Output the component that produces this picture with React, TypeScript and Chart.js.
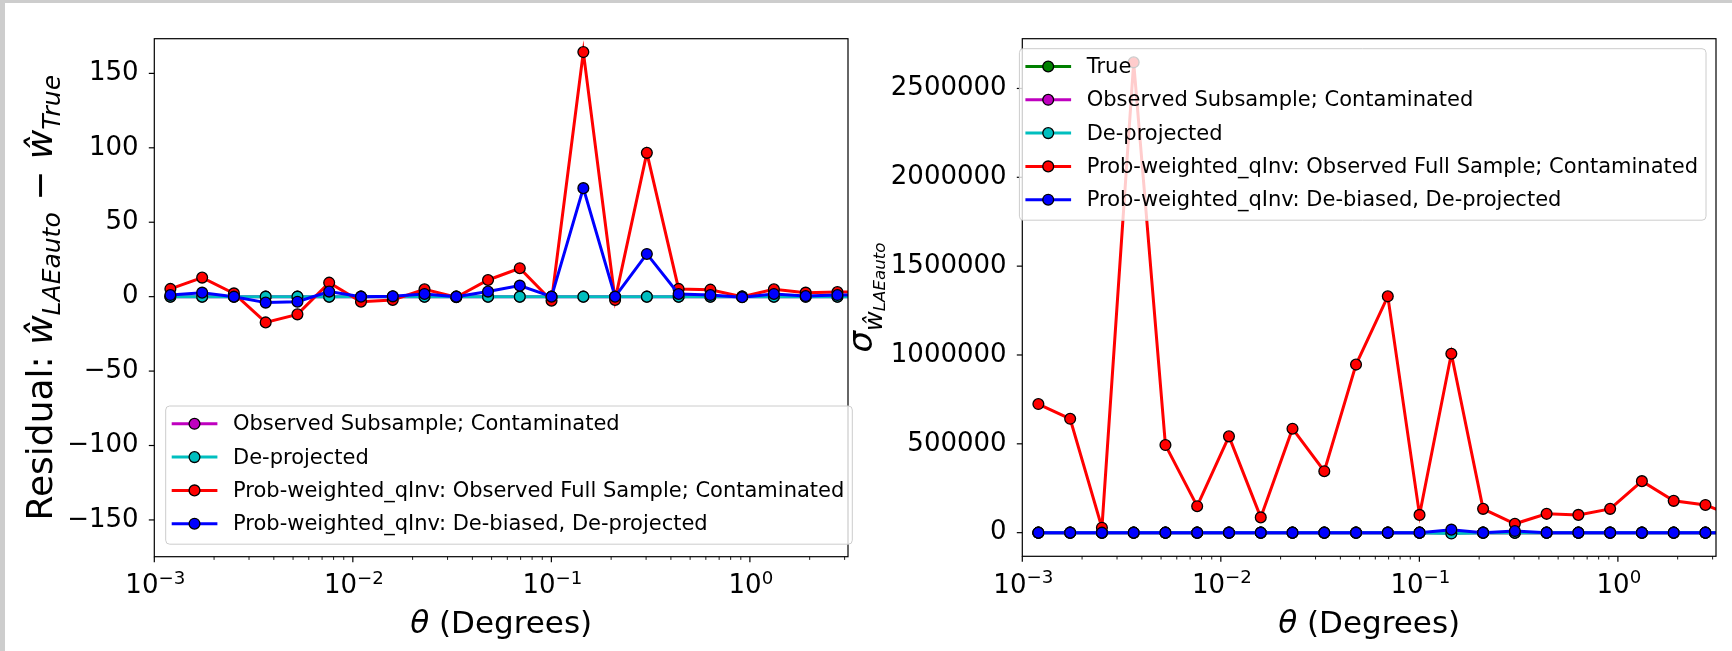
import React, { useEffect, useRef } from 'react';
import { Chart, registerables } from 'chart.js';

Chart.register(...registerables);

// ---------- data ----------
const THETA_DEG = [
  0.001205, 0.001742, 0.002518, 0.003639, 0.00526, 0.0076, 0.01099, 0.01589,
  0.02296, 0.0332, 0.04797, 0.06934, 0.1002, 0.1449, 0.2094, 0.3027, 0.4375,
  0.6324, 0.914, 1.321, 1.91, 2.76, 3.99,
];

// Left panel: residuals
const RES_OBS_SUB = [0, 0, 0, 0, 0, 0, 0, 0, 0, 0, 0, 0, 0, 0, 0, 0, 0, 0, 0, 0, 0, 0, 0];
const RES_DEPROJ = [0, 0, 0, 0, 0, 0, 0, 0, 0, 0, 0, 0, 0, 0, 0, 0, 0, 0, 0, 0, 0, 0, 0];
const RES_PW_FULL = [5.2, 12.8, 2.2, -17.3, -11.9, 9.4, -3.4, -2.2, 4.9, -0.4, 11.2, 19.1, -2.7, 164.3, -2.2, 96.6, 5.2, 4.7, 0, 4.9, 2.7, 3.1, 3.0];
const RES_PW_DEBIAS = [1.1, 2.7, 0, -4.0, -3.4, 3.4, 0, 0.2, 1.8, 0, 3.4, 7.4, 0, 72.9, 0, 28.7, 1.8, 1.1, -0.4, 1.8, 0.4, 1.1, 1.0];

// Right panel: sigma
const SIG_TRUE = [0, 0, 0, 0, 0, 0, 0, 0, 0, 0, 0, 0, 0, 0, 0, 0, 0, 0, 0, 0, 0, 0, 0];
const SIG_OBS_SUB = [0, 0, 0, 0, 0, 0, 0, 0, 0, 0, 0, 0, 0, 0, 0, 0, 0, 0, 0, 0, 0, 0, 0];
const SIG_DEPROJ = [0, 0, 0, 0, 0, 0, 0, 0, 0, 0, 0, 0, 0, -5000, 0, 0, 0, 0, 0, 0, 0, 0, 0];
const SIG_PW_FULL = [724000, 641000, 28000, 2647000, 493000, 149000, 542000, 86000, 585000, 346000, 946000, 1330000, 100000, 1007000, 134000, 50000, 106000, 100000, 134000, 290000, 179000, 156000, 84000];
const SIG_PW_DEBIAS = [0, 0, 0, 0, 0, 0, 0, 0, 0, 0, 0, 0, 0, 17000, 0, 9000, 0, 0, 0, 0, 0, 0, 0];

const LABEL_TRUE = 'True';
const LABEL_OBS_SUB = 'Observed Subsample; Contaminated';
const LABEL_DEPROJ = 'De-projected';
const LABEL_PW_FULL = 'Prob-weighted_qInv: Observed Full Sample; Contaminated';
const LABEL_PW_DEBIAS = 'Prob-weighted_qInv: De-biased, De-projected';

// axis settings
const X_MIN = 0.001;
const X_MAX = 3.12;
const X_MAJOR_EXPONENTS = [-3, -2, -1, 0];
const X_MINOR_MULTIPLIERS = [2, 3, 4, 5, 6, 7, 8, 9];
const LEFT_Y_MIN = -174.7;
const LEFT_Y_MAX = 173.3;
const LEFT_Y_TICKS = [-150, -100, -50, 0, 50, 100, 150];
const RIGHT_Y_MIN = -133000;
const RIGHT_Y_MAX = 2780000;
const RIGHT_Y_TICKS = [0, 500000, 1000000, 1500000, 2000000, 2500000];

// ---------- style ----------
const FONT = '"DejaVu Sans", sans-serif';
const COL = {
  green: '#008000',
  magenta: '#bf00bf',
  cyan: '#00bfbf',
  red: '#ff0000',
  blue: '#0000ff',
};
const TICK_FONT = 26;
const LEG_FONT = 21;
const LINE_W = 3;
const PT_R = 5.4;
const PT_BW = 1.3;

type Run = { text: string; size: number; italic?: boolean; dy?: number };

function fontStr(size: number, italic?: boolean) {
  return `${italic ? 'italic ' : ''}${size}px ${FONT}`;
}

function drawRuns(ctx: CanvasRenderingContext2D, runs: Run[], x: number, y: number, rotated: boolean) {
  ctx.save();
  ctx.translate(x, y);
  if (rotated) ctx.rotate(-Math.PI / 2);
  ctx.textAlign = 'left';
  ctx.textBaseline = 'alphabetic';
  ctx.fillStyle = '#000';
  let total = 0;
  const widths = runs.map((r) => {
    ctx.font = fontStr(r.size, r.italic);
    const w = ctx.measureText(r.text).width;
    total += w;
    return w;
  });
  let cx = -total / 2;
  runs.forEach((r, i) => {
    ctx.font = fontStr(r.size, r.italic);
    ctx.fillText(r.text, cx, r.dy || 0);
    cx += widths[i];
  });
  ctx.restore();
}

function roundRectPath(ctx: CanvasRenderingContext2D, x: number, y: number, w: number, h: number, r: number) {
  ctx.beginPath();
  ctx.moveTo(x + r, y);
  ctx.lineTo(x + w - r, y);
  ctx.arcTo(x + w, y, x + w, y + r, r);
  ctx.lineTo(x + w, y + h - r);
  ctx.arcTo(x + w, y + h, x + w - r, y + h, r);
  ctx.lineTo(x + r, y + h);
  ctx.arcTo(x, y + h, x, y + h - r, r);
  ctx.lineTo(x, y + r);
  ctx.arcTo(x, y, x + r, y, r);
  ctx.closePath();
}

const decorPlugin = {
  id: 'mplDecor',
  afterDraw(chart: any, _args: any, opts: any) {
    const ctx: CanvasRenderingContext2D = chart.ctx;
    const { left, right, top, bottom } = chart.chartArea;
    const xs = chart.scales.x;
    const ys = chart.scales.y;
    ctx.save();
    ctx.strokeStyle = '#000';

    // y major ticks
    ctx.lineWidth = 1.2;
    for (const t of ys.ticks) {
      const py = ys.getPixelForValue(t.value);
      ctx.beginPath();
      ctx.moveTo(left - 5.5, py);
      ctx.lineTo(left, py);
      ctx.stroke();
    }
    // x ticks (log)
    for (const e of X_MAJOR_EXPONENTS) {
      const base = Math.pow(10, e);
      if (base >= X_MIN && base <= X_MAX) {
        const px = xs.getPixelForValue(base);
        ctx.lineWidth = 1.2;
        ctx.beginPath();
        ctx.moveTo(px, bottom);
        ctx.lineTo(px, bottom + 5.5);
        ctx.stroke();
      }
      for (const m of X_MINOR_MULTIPLIERS) {
        const v = m * base;
        if (v < X_MIN || v > X_MAX) continue;
        const px = xs.getPixelForValue(v);
        ctx.lineWidth = 0.9;
        ctx.beginPath();
        ctx.moveTo(px, bottom);
        ctx.lineTo(px, bottom + 3.2);
        ctx.stroke();
      }
    }
    // frame
    ctx.lineWidth = 1.2;
    ctx.strokeRect(left, top, right - left, bottom - top);

    // x tick labels with superscripts
    for (const e of X_MAJOR_EXPONENTS) {
      const v = Math.pow(10, e);
      const px = xs.getPixelForValue(v);
      const sup = e < 0 ? '\u2212' + String(-e) : String(e);
      drawRuns(
        ctx,
        [
          { text: '10', size: TICK_FONT },
          { text: sup, size: TICK_FONT * 0.7, dy: -9.5 },
        ],
        px + 1,
        bottom + 36.6,
        false
      );
    }

    // x title
    drawRuns(
      ctx,
      [
        { text: '\u03b8', size: 31, italic: true },
        { text: ' (Degrees)', size: 31 },
      ],
      (left + right) / 2,
      bottom + 76.3,
      false
    );

    // y title
    drawRuns(ctx, opts.yTitle, left - opts.yTitleOffset, (top + bottom) / 2, true);

    // legend
    const items = chart.data.datasets.map((d: any) => ({ label: d.label, color: d.borderColor }));
    ctx.font = fontStr(LEG_FONT);
    const maxW = Math.max(...items.map((it: any) => ctx.measureText(it.label).width));
    const w = 67.3 + maxW + 8;
    const h = 17.8 + (items.length - 1) * 33.3 + 20.5;
    let x0: number;
    let y0: number;
    if (opts.legendCorner === 'lowerleft') {
      x0 = left + 11.4;
      y0 = bottom - 12.5 - h;
    } else {
      x0 = right - 10 - w;
      y0 = top + 10;
    }
    roundRectPath(ctx, x0, y0, w, h, 4);
    ctx.fillStyle = 'rgba(255,255,255,0.8)';
    ctx.fill();
    ctx.strokeStyle = '#cccccc';
    ctx.lineWidth = 1;
    ctx.stroke();
    items.forEach((it: any, i: number) => {
      const cy = y0 + 17.8 + i * 33.3;
      ctx.strokeStyle = it.color;
      ctx.lineWidth = LINE_W;
      ctx.beginPath();
      ctx.moveTo(x0 + 6, cy);
      ctx.lineTo(x0 + 51.7, cy);
      ctx.stroke();
      ctx.beginPath();
      ctx.arc(x0 + 28.8, cy, PT_R, 0, Math.PI * 2);
      ctx.fillStyle = it.color;
      ctx.fill();
      ctx.strokeStyle = '#000';
      ctx.lineWidth = PT_BW;
      ctx.stroke();
      ctx.fillStyle = '#000';
      ctx.font = fontStr(LEG_FONT);
      ctx.textAlign = 'left';
      ctx.textBaseline = 'middle';
      ctx.fillText(it.label, x0 + 67.3, cy + 1);
    });

    ctx.restore();
  },
};

function makeDataset(label: string, color: string, ys: number[], idx: number, n: number) {
  return {
    label,
    data: THETA_DEG.map((x, i) => ({ x, y: ys[i] })),
    borderColor: color,
    backgroundColor: color,
    borderWidth: LINE_W,
    pointRadius: PT_R,
    pointHoverRadius: PT_R,
    pointBorderColor: '#000',
    pointBorderWidth: PT_BW,
    pointBackgroundColor: color,
    tension: 0,
    order: n - idx,
    clip: 0,
  };
}

type PanelProps = {
  left: number;
  width: number;
  height: number;
  series: { label: string; color: string; values: number[] }[];
  yMin: number;
  yMax: number;
  yTicks: number[];
  yFmt: (v: number) => string;
  yAxisWidth: number;
  padding: { left: number; right: number; top: number; bottom: number };
  yTitle: Run[];
  yTitleOffset: number;
  legendCorner: string;
};

function Panel(p: PanelProps) {
  const ref = useRef<HTMLCanvasElement | null>(null);
  useEffect(() => {
    if (!ref.current) return;
    const n = p.series.length;
    const chart = new Chart(ref.current, {
      type: 'line',
      data: {
        datasets: p.series.map((s, i) => makeDataset(s.label, s.color, s.values, i, n)) as any,
      },
      options: {
        animation: false,
        responsive: false,
        maintainAspectRatio: false,
        devicePixelRatio: 1,
        events: [],
        layout: { padding: p.padding },
        plugins: {
          legend: { display: false },
          tooltip: { enabled: false },
          mplDecor: { yTitle: p.yTitle, yTitleOffset: p.yTitleOffset, legendCorner: p.legendCorner },
        } as any,
        scales: {
          x: {
            type: 'logarithmic',
            min: X_MIN,
            max: X_MAX,
            grid: { display: false, drawTicks: false },
            border: { display: false },
            ticks: { display: false },
            afterFit: (scale: any) => {
              scale.height = 0;
            },
          },
          y: {
            type: 'linear',
            min: p.yMin,
            max: p.yMax,
            grid: { display: false, drawTicks: false },
            border: { display: false },
            ticks: {
              padding: 15.7,
              color: '#000',
              autoSkip: false,
              font: { family: '"DejaVu Sans"', size: TICK_FONT },
              callback: (v: any) => p.yFmt(Number(v)),
            },
            afterBuildTicks: (scale: any) => {
              scale.ticks = p.yTicks.map((v) => ({ value: v }));
            },
            afterFit: (scale: any) => {
              scale.width = p.yAxisWidth;
            },
          },
        } as any,
      },
      plugins: [decorPlugin as any],
    });
    return () => chart.destroy();
  }, []);
  return (
    <canvas
      ref={ref}
      width={p.width}
      height={p.height}
      style={{ position: 'absolute', left: p.left, top: 0, width: p.width, height: p.height }}
    />
  );
}

const fmtLeft = (v: number) => (v < 0 ? '\u2212' + String(-v) : String(v));
const fmtRight = (v: number) => (v < 0 ? '\u2212' + String(-v) : String(Math.round(v)));

export default function App() {
  const leftSeries = [
    { label: LABEL_OBS_SUB, color: COL.magenta, values: RES_OBS_SUB },
    { label: LABEL_DEPROJ, color: COL.cyan, values: RES_DEPROJ },
    { label: LABEL_PW_FULL, color: COL.red, values: RES_PW_FULL },
    { label: LABEL_PW_DEBIAS, color: COL.blue, values: RES_PW_DEBIAS },
  ];
  const rightSeries = [
    { label: LABEL_TRUE, color: COL.green, values: SIG_TRUE },
    { label: LABEL_OBS_SUB, color: COL.magenta, values: SIG_OBS_SUB },
    { label: LABEL_DEPROJ, color: COL.cyan, values: SIG_DEPROJ },
    { label: LABEL_PW_FULL, color: COL.red, values: SIG_PW_FULL },
    { label: LABEL_PW_DEBIAS, color: COL.blue, values: SIG_PW_DEBIAS },
  ];
  const leftTitle: Run[] = [
    { text: 'Residual: ', size: 36 },
    { text: '\u0175', size: 36, italic: true },
    { text: 'LAEauto', size: 25, italic: true, dy: 8 },
    { text: ' \u2212 ', size: 36 },
    { text: '\u0175', size: 36, italic: true },
    { text: 'True', size: 25, italic: true, dy: 8 },
  ];
  const rightTitle: Run[] = [
    { text: '\u03c3', size: 34, italic: true },
    { text: '\u0175', size: 24, italic: true, dy: 10 },
    { text: 'LAEauto', size: 16.7, italic: true, dy: 13 },
  ];
  return (
    <div style={{ position: 'fixed', left: 0, top: 0, width: 1732, height: 651, background: '#fff', overflow: 'hidden' }}>
      <div style={{ position: 'absolute', left: 0, top: 0, width: 1732, height: 3, background: '#cdcdcd' }} />
      <div style={{ position: 'absolute', left: 0, top: 0, width: 5, height: 651, background: '#cdcdcd' }} />
      <Panel
        left={0}
        width={870}
        height={651}
        series={leftSeries}
        yMin={LEFT_Y_MIN}
        yMax={LEFT_Y_MAX}
        yTicks={LEFT_Y_TICKS}
        yFmt={fmtLeft}
        yAxisWidth={120}
        padding={{ left: 34.3, right: 22, top: 38.7, bottom: 94.3 }}
        yTitle={leftTitle}
        yTitleOffset={102.3}
        legendCorner="lowerleft"
      />
      <Panel
        left={840}
        width={892}
        height={651}
        series={rightSeries}
        yMin={RIGHT_Y_MIN}
        yMax={RIGHT_Y_MAX}
        yTicks={RIGHT_Y_TICKS}
        yFmt={fmtRight}
        yAxisWidth={150}
        padding={{ left: 32.3, right: 16, top: 38.7, bottom: 94.7 }}
        yTitle={rightTitle}
        yTitleOffset={150.8}
        legendCorner="upperright"
      />
    </div>
  );
}
